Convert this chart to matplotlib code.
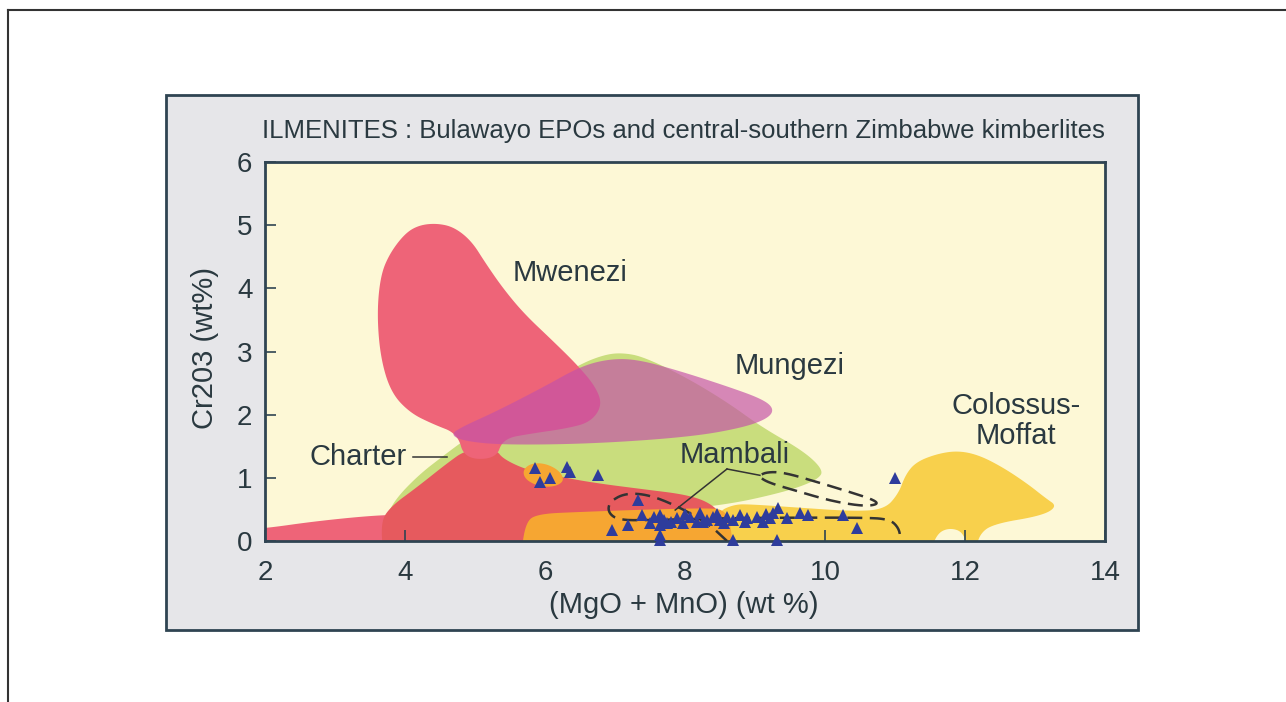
import numpy as np
import matplotlib
matplotlib.use("Agg")
import matplotlib.pyplot as plt
from matplotlib.patches import Polygon, Rectangle
from matplotlib.lines import Line2D

plt.rcParams['font.family'] = ['Liberation Sans', 'DejaVu Sans']

# ---- field outlines, (MgO+MnO, Cr2O3) ----
charter_green = [(3.6, -0.3), (3.7, 0.3), (3.85, 0.65), (4.2, 1.05), (4.55, 1.35), (4.85, 1.6),
                 (5.3, 1.9), (5.9, 2.4), (6.5, 2.8), (6.85, 2.95), (7.1, 2.98), (7.4, 2.92),
                 (8.0, 2.6), (8.6, 2.2), (9.1, 1.8), (9.7, 1.42), (9.98, 1.12), (9.9, 0.98),
                 (9.6, 0.84), (9.2, 0.72), (8.7, 0.6), (8.0, 0.5), (6.0, 0.3), (4.5, -0.3)]
mwenezi_tail = [(1.6, -0.3), (1.6, 0.18), (2.0, 0.2), (2.7, 0.31), (3.5, 0.4), (4.0, 0.42),
                (4.3, 0.3), (4.3, -0.3)]
lower_red = [(3.7, -0.3), (3.65, 0.3), (3.8, 0.55), (4.17, 0.85), (4.6, 1.23), (4.88, 1.45),
             (5.3, 1.45), (5.4, 1.3), (5.75, 1.12), (6.2, 1.02), (6.7, 0.92), (7.4, 0.82),
             (8.05, 0.73), (8.4, 0.58), (8.6, 0.3), (8.6, -0.3)]
mwenezi = [(4.85, 1.3), (4.75, 1.7), (4.4, 1.85), (4.07, 2.03), (3.8, 2.35), (3.65, 2.9),
           (3.6, 3.6), (3.65, 4.2), (3.78, 4.55), (4.0, 4.87), (4.2, 5.0), (4.45, 5.03),
           (4.7, 4.97), (4.95, 4.75), (5.15, 4.4), (5.4, 4.0), (5.7, 3.6), (6.1, 3.18),
           (6.45, 2.8), (6.72, 2.45), (6.82, 2.15), (6.65, 1.88), (6.3, 1.78), (5.8, 1.7),
           (5.4, 1.62), (5.3, 1.3)]
mungezi = [(4.65, 1.68), (4.85, 1.58), (5.4, 1.52), (6.7, 1.54), (8.1, 1.65), (8.85, 1.8),
           (9.2, 1.95), (9.27, 2.1), (9.1, 2.25), (8.6, 2.45), (7.9, 2.7), (7.3, 2.88),
           (6.9, 2.88), (6.5, 2.76), (6.0, 2.45), (5.3, 2.05), (4.8, 1.8)]
orange_blob = [(5.68, 1.12), (5.8, 1.23), (6.0, 1.23), (6.2, 1.12), (6.28, 0.96),
               (6.15, 0.86), (5.92, 0.86), (5.72, 0.97)]
orange_band = [(5.65, -0.3), (5.72, 0.3), (5.9, 0.43), (6.5, 0.46), (7.5, 0.5), (8.3, 0.52),
               (8.55, 0.5), (8.65, 0.3), (8.7, -0.3)]
colossus = [(8.3, -0.3), (8.45, 0.45), (8.7, 0.58), (8.95, 0.58), (9.6, 0.53), (10.4, 0.47),
            (10.85, 0.5), (11.05, 0.75), (11.15, 1.05), (11.3, 1.25), (11.6, 1.38), (11.9, 1.43),
            (12.2, 1.36), (12.55, 1.16), (12.9, 0.9), (13.15, 0.68), (13.32, 0.55), (13.1, 0.4),
            (12.4, 0.27), (12.2, 0.1), (12.15, -0.2), (12.05, -0.2), (11.98, 0.14), (11.78, 0.21),
            (11.6, 0.12), (11.5, -0.2)]

# Mambali dashed outlines
mambali_loop = [(8.6, 0.0), (8.35, 0.26), (7.95, 0.52), (7.5, 0.73), (7.15, 0.76), (6.92, 0.62),
                (6.9, 0.45), (7.05, 0.33), (7.5, 0.33), (8.5, 0.36), (9.5, 0.37), (10.5, 0.37),
                (10.92, 0.35), (11.06, 0.2), (11.08, 0.0)]
mambali_ellipse = [(9.05, 1.02), (9.15, 1.09), (9.4, 1.09), (9.9, 0.93), (10.4, 0.76), (10.7, 0.65),
                   (10.76, 0.58), (10.55, 0.55), (10.1, 0.63), (9.6, 0.79), (9.2, 0.92)]

# ilmenite analyses (triangles)
ilm_x = [5.86, 5.93, 6.07, 6.31, 6.36, 6.76, 6.96, 7.19, 7.33, 7.39, 7.5, 7.64, 7.64, 7.64, 7.64,
         7.74, 7.89, 7.97, 8.07, 8.17, 8.21, 8.31, 8.4, 8.5, 8.6, 8.69, 8.69, 8.79, 8.89, 9.03,
         9.11, 9.21, 9.26, 9.33, 9.31, 9.46, 9.64, 9.76, 10.26, 10.46, 11.0,
         7.55, 7.7, 7.8, 8.0, 8.25, 8.45, 8.55, 8.85, 9.15]
ilm_y = [1.16, 0.93, 1.0, 1.17, 1.09, 1.04, 0.17, 0.25, 0.65, 0.41, 0.28, 0.41, 0.25, 0.09, 0.02,
         0.28, 0.36, 0.28, 0.38, 0.3, 0.44, 0.33, 0.38, 0.33, 0.38, 0.02, 0.33, 0.41, 0.36, 0.38,
         0.3, 0.36, 0.44, 0.52, 0.02, 0.36, 0.44, 0.41, 0.41, 0.21, 1.0,
         0.38, 0.33, 0.3, 0.42, 0.3, 0.42, 0.28, 0.3, 0.42]

xticks = [2, 4, 6, 8, 10, 12, 14]
yticks = [0, 1, 2, 3, 4, 5, 6]

TXT = '#2a3940'


def chaikin(pts, n=4, closed=True):
    p = np.asarray(pts, float)
    for _ in range(n):
        if closed:
            q = np.roll(p, -1, axis=0)
            new = np.empty((2 * len(p), 2))
            new[0::2] = 0.75 * p + 0.25 * q
            new[1::2] = 0.25 * p + 0.75 * q
        else:
            a, b = p[:-1], p[1:]
            mid = np.empty((2 * len(a), 2))
            mid[0::2] = 0.75 * a + 0.25 * b
            mid[1::2] = 0.25 * a + 0.75 * b
            new = np.vstack([p[:1], mid, p[-1:]])
        p = new
    return p


fig = plt.figure(figsize=(12.86, 7.02), dpi=100)

# page frame (top and left edges only are in view)
fig.add_artist(Line2D([8 / 1286, 1], [1 - 10 / 702] * 2, color='#333333', lw=1.5))
fig.add_artist(Line2D([8 / 1286] * 2, [0, 1 - 10 / 702], color='#333333', lw=1.5))
# grey panel
fig.add_artist(Rectangle((166 / 1286, 1 - 630 / 702), (1138 - 166) / 1286, (630 - 95) / 702,
                         facecolor='#e6e6e9', edgecolor='#2f4452', lw=2, zorder=0))

ax = fig.add_axes([265 / 1286, 1 - 541 / 702, 840 / 1286, 379 / 702])
ax.set_facecolor('#fdf8d6')
ax.set_xlim(2, 14)
ax.set_ylim(0, 6)

fields = [(charter_green, '#c9dd7d', 1.0),
          (mwenezi_tail, '#ee6478', 1.0),
          (lower_red, '#e65a5e', 1.0),
          (mwenezi, '#ee6478', 1.0),
          (mungezi, '#c452a8', 0.68),
          (colossus, '#f8d04c', 1.0),
          (orange_band, '#f6a632', 1.0),
          (orange_blob, '#f6a632', 1.0)]
for i, (pts, col, a) in enumerate(fields):
    ax.add_patch(Polygon(chaikin(pts), closed=True, facecolor=col, edgecolor='none',
                         alpha=a, zorder=1 + i * 0.1))

dash = (0, (6, 3))
lp = chaikin(mambali_loop, closed=False)
ax.plot(lp[:, 0], lp[:, 1], ls=dash, color='#333333', lw=1.8, zorder=3)
el = chaikin(mambali_ellipse)
el = np.vstack([el, el[:1]])
ax.plot(el[:, 0], el[:, 1], ls=dash, color='#333333', lw=1.8, zorder=3)

ax.plot(ilm_x, ilm_y, ls='none', marker='^', ms=8.5, color='#2e3c9c', mew=0, zorder=4,
        clip_on=False)

# leaders and field names
ax.plot([8.6, 7.86], [1.14, 0.49], color='#333333', lw=1.1, zorder=3)
ax.plot([8.6, 9.07], [1.14, 1.04], color='#333333', lw=1.1, zorder=3)
ax.plot([4.11, 4.6], [1.33, 1.33], color='#333333', lw=1.1, zorder=3)
lab = dict(fontsize=21, color=TXT, ha='center', va='center', zorder=5)
ax.text(6.36, 4.24, 'Mwenezi', **lab)
ax.text(9.49, 2.77, 'Mungezi', **lab)
ax.text(8.71, 1.36, 'Mambali', **lab)
ax.text(3.33, 1.33, 'Charter', **lab)
ax.text(12.73, 1.9, 'Colossus-\nMoffat', linespacing=1.1, **lab)

ax.set_xticks(xticks)
ax.set_yticks(yticks)
ax.tick_params(direction='in', length=8, width=1.2, color='#2f4452', labelsize=20,
               labelcolor=TXT, top=False, right=False)
ax.tick_params(axis='x', pad=14)
ax.tick_params(axis='y', pad=9)
for s in ax.spines.values():
    s.set_color('#2f4452')
    s.set_linewidth(2)

fig.text(683 / 1286, 1 - 131 / 702,
         'ILMENITES : Bulawayo EPOs and central-southern Zimbabwe kimberlites',
         fontsize=18.5, color=TXT, ha='center', va='center')
fig.text(684 / 1286, 1 - 605 / 702, '(MgO + MnO) (wt %)', fontsize=21, color=TXT,
         ha='center', va='center')
fig.text(205 / 1286, 1 - 348 / 702, 'Cr203 (wt%)', fontsize=21, color=TXT, rotation=90,
         ha='center', va='center')

fig.savefig('out.png', dpi=100)
